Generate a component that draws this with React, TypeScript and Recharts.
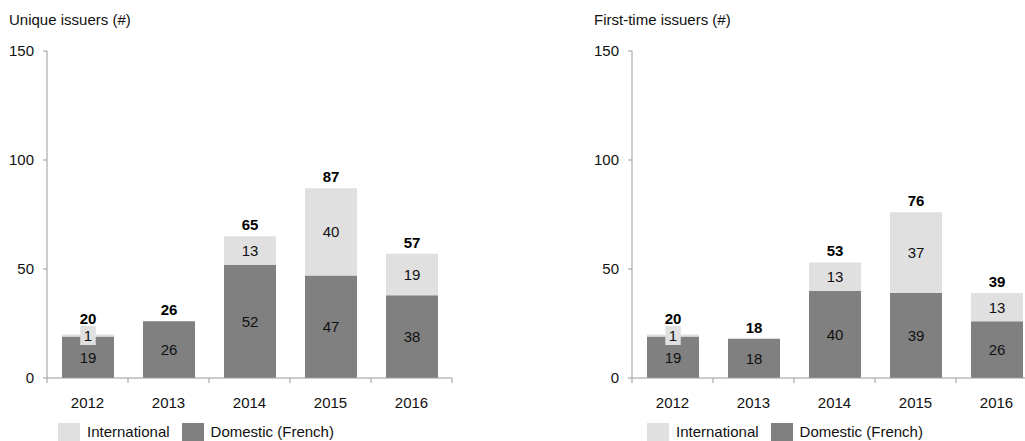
import { Bar, BarChart, LabelList, XAxis, YAxis } from "recharts";

const years = ["2012", "2013", "2014", "2015", "2016"];
const uniqueDomestic = [19, 26, 52, 47, 38];
const uniqueInternational = [1, 0, 13, 40, 19];
const firstDomestic = [19, 18, 40, 39, 26];
const firstInternational = [1, 0, 13, 37, 13];
const yTicks = [0, 50, 100, 150];

const DARK = "#808080";
const LIGHT = "#e0e0e0";
const AXIS = "#9a9a9a";
const FONT = "'Liberation Sans', Arial, sans-serif";

const CHART_W = 470;
const CHART_H = 441;
const MARGIN = { top: 51, right: 18, bottom: 33, left: 7 };
const Y_AXIS_W = 40;
const AXIS_Y = CHART_H - MARGIN.bottom - 30;
const BAND = (CHART_W - MARGIN.left - MARGIN.right - Y_AXIS_W) / years.length;

function XTick(props: any) {
  const { x, payload, index } = props;
  const half = BAND / 2;
  return (
    <g>
      <line x1={x - half} x2={x - half} y1={AXIS_Y} y2={AXIS_Y + 5} stroke={AXIS} />
      {index === years.length - 1 && (
        <line x1={x + half} x2={x + half} y1={AXIS_Y} y2={AXIS_Y + 5} stroke={AXIS} />
      )}
      <text x={x} y={AXIS_Y + 30} textAnchor="middle" fontSize={15} fill="#111" fontFamily={FONT}>
        {payload.value}
      </text>
    </g>
  );
}

function SegLabel(props: any) {
  const { x, y, width, height, value } = props;
  if (!value) return null;
  const cx = Number(x) + Number(width) / 2;
  const cy = Number(y) + Number(height) / 2;
  return (
    <text x={cx} y={cy} textAnchor="middle" dominantBaseline="central" fontSize={15} fill="#111" fontFamily={FONT}>
      {value}
    </text>
  );
}

function IntlLabel(props: any) {
  const { x, y, width, height, value } = props;
  if (!value) return null;
  const cx = Number(x) + Number(width) / 2;
  const cy = Number(y) + Number(height) / 2;
  const w = String(value).length * 8.5 + 7;
  return (
    <g>
      <rect x={cx - w / 2} y={cy - 9.5} width={w} height={19} fill={LIGHT} />
      <text x={cx} y={cy} textAnchor="middle" dominantBaseline="central" fontSize={15} fill="#111" fontFamily={FONT}>
        {value}
      </text>
    </g>
  );
}

// bold total above the stack; pushed up a bit more when the top segment is
// a thin sliver whose boxed label would otherwise collide with it
function TotalLabel(props: any) {
  const { x, y, width, height, value } = props;
  if (value == null) return null;
  const h = Math.abs(Number(height));
  const sliver = h > 0 && h < 8;
  const cx = Number(x) + Number(width) / 2;
  return (
    <text
      x={cx}
      y={Number(y) - (sliver ? 16 : 11.5)}
      textAnchor="middle"
      dominantBaseline="central"
      fontSize={15}
      fontWeight="bold"
      fill="#000"
      fontFamily={FONT}
    >
      {value}
    </text>
  );
}

interface PanelProps {
  title: string;
  domestic: number[];
  international: number[];
  left: number;
  legendLeft: number;
}

function Panel({ title, domestic, international, left, legendLeft }: PanelProps) {
  const data = years.map((year, i) => {
    const total = domestic[i] + international[i];
    return {
      year,
      domestic: domestic[i],
      international: international[i],
      totalOnIntl: international[i] > 0 ? total : null,
      totalOnDom: international[i] > 0 ? null : total,
    };
  });
  const swatch = (color: string) => (
    <span style={{ display: "inline-block", width: 22, height: 22, background: color, marginRight: 7, verticalAlign: "top" }} />
  );
  return (
    <div style={{ position: "absolute", left, top: 0, width: CHART_W, height: CHART_H }}>
      <div style={{ position: "absolute", left: 9, top: 11, fontSize: 15, lineHeight: "18px", color: "#111", fontFamily: FONT }}>
        {title}
      </div>
      <BarChart width={CHART_W} height={CHART_H} data={data} margin={MARGIN}>
        <XAxis
          dataKey="year"
          height={30}
          tickLine={false}
          axisLine={{ stroke: AXIS }}
          tick={<XTick />}
          interval={0}
        />
        <YAxis
          width={Y_AXIS_W}
          domain={[0, 150]}
          ticks={yTicks}
          tickSize={4}
          tickMargin={9}
          axisLine={{ stroke: AXIS }}
          tickLine={{ stroke: AXIS }}
          tick={{ fill: "#111", fontSize: 15, fontFamily: FONT }}
        />
        <Bar dataKey="domestic" stackId="a" fill={DARK} barSize={52} isAnimationActive={false}>
          <LabelList dataKey="domestic" content={SegLabel} />
          <LabelList dataKey="totalOnDom" content={TotalLabel} />
        </Bar>
        <Bar dataKey="international" stackId="a" fill={LIGHT} barSize={52} isAnimationActive={false}>
          <LabelList dataKey="international" content={IntlLabel} />
          <LabelList dataKey="totalOnIntl" content={TotalLabel} />
        </Bar>
      </BarChart>
      <div
        style={{
          position: "absolute",
          left: legendLeft,
          top: 423,
          fontSize: 15,
          lineHeight: "22px",
          color: "#111",
          fontFamily: FONT,
          whiteSpace: "nowrap",
        }}
      >
        {swatch(LIGHT)}
        <span style={{ marginRight: 12, verticalAlign: "top", lineHeight: "18px" }}>International</span>
        {swatch(DARK)}
        <span style={{ verticalAlign: "top", lineHeight: "18px" }}>Domestic (French)</span>
      </div>
    </div>
  );
}

export default function App() {
  return (
    <div
      style={{
        position: "absolute",
        left: 0,
        top: 0,
        width: 1025,
        height: 441,
        overflow: "hidden",
        background: "#fff",
      }}
    >
      <Panel
        title="Unique issuers (#)"
        domestic={uniqueDomestic}
        international={uniqueInternational}
        left={0}
        legendLeft={58}
      />
      <Panel
        title="First-time issuers (#)"
        domestic={firstDomestic}
        international={firstInternational}
        left={585}
        legendLeft={62}
      />
    </div>
  );
}
